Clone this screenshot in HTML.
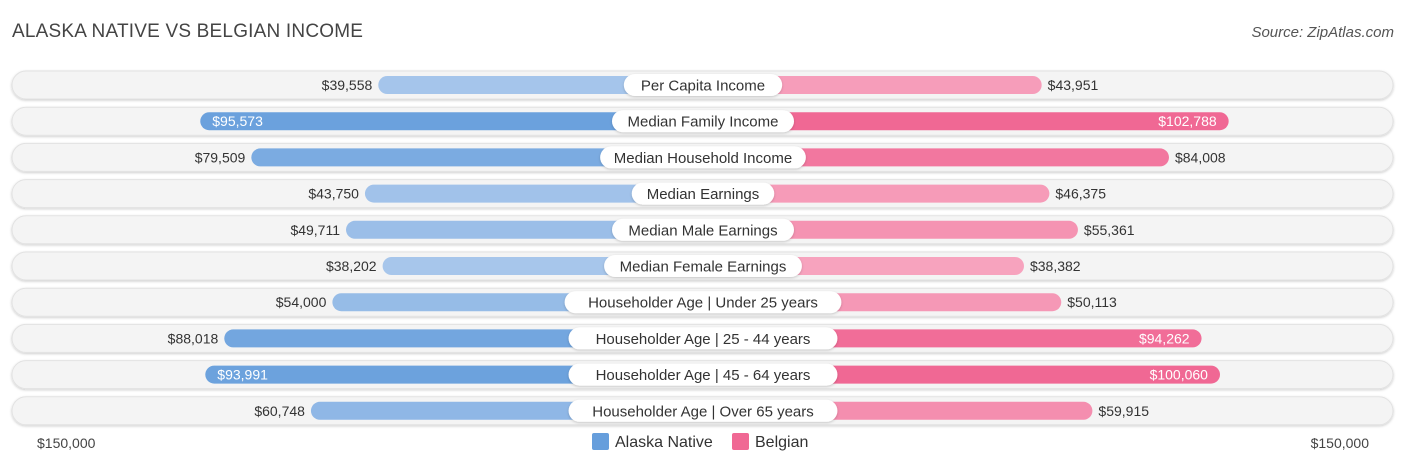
<!DOCTYPE html>
<html><head><meta charset="utf-8"><style>
body{margin:0;background:#fff;font-family:"Liberation Sans",sans-serif;}
#c{position:relative;width:1406px;height:467px;overflow:hidden}
.t{position:absolute;white-space:nowrap}
</style></head><body>
<div id="c">
<div class="t" style="left:12px;top:21px;font-size:19px;color:#444;letter-spacing:0.2px">ALASKA NATIVE VS BELGIAN INCOME</div>
<div class="t" style="right:12px;top:24px;font-size:15px;color:#555;font-style:italic">Source: ZipAtlas.com</div>
<svg id="s" width="1406" height="467" style="position:absolute;left:0;top:0"></svg>
</div>
<script>
const categories=["Per Capita Income","Median Family Income","Median Household Income","Median Earnings","Median Male Earnings","Median Female Earnings","Householder Age | Under 25 years","Householder Age | 25 - 44 years","Householder Age | 45 - 64 years","Householder Age | Over 65 years"];
const alaskaNative=[39558,95573,79509,43750,49711,38202,54000,88018,93991,60748];
const belgian=[43951,102788,84008,46375,55361,38382,50113,94262,100060,59915];
const axisMax=150000;
const axisLabels=["$150,000","$150,000"];
const seriesNames=["Alaska Native","Belgian"];
const NS="http://www.w3.org/2000/svg",svg=document.getElementById('s');
const cx=703;
function len(v){return 199+v*0.003178;}
function yRow(i){return 85+i*36.2;}
function el(t,a,p){const e=document.createElementNS(NS,t);for(const k in a)e.setAttribute(k,a[k]);(p||svg).appendChild(e);return e;}
function mix(a,b,f){return 'rgb('+a.map((x,i)=>Math.round(x+(b[i]-x)*f)).join(',')+')';}
function fmt(v){return '$'+v.toLocaleString('en-US');}
const bl=[[170,200,236],[102,158,220]],pk=[[247,166,192],[240,104,148]];
const defs=el('defs',{});
const f=el('filter',{id:'sh',x:'-10%',y:'-30%',width:'120%',height:'160%'},defs);
el('feDropShadow',{dx:0,dy:1,stdDeviation:1.2,'flood-color':'#000','flood-opacity':0.2},f);
categories.forEach((c,i)=>{
 const y=yRow(i);
 const bg=el('rect',{x:12,y:y-14,width:1381,height:28,rx:14,fill:'#f4f4f4',stroke:'#e2e2e2','stroke-width':1,filter:'url(#sh)'});
 
 [[alaskaNative[i],-1,bl,'alaska-native-bar'],[belgian[i],1,pk,'belgian-bar']].forEach(([v,d,col,nm])=>{
  const L=len(v),fr=Math.max(0,Math.min(1,(v-35000)/65000));
  const x=d<0?cx-L:cx;
  const r=el('rect',{x:x,y:y-9,width:L,height:18,rx:9,fill:mix(col[0],col[1],fr)});
  
  const inside=v>90000;
  const tx=inside?(d<0?cx-L+12:cx+L-12):(d<0?cx-L-6:cx+L+6);
  const t=el('text',{x:tx,y:y+5,'font-size':14,fill:inside?'#fff':'#333','text-anchor':d<0?(inside?'start':'end'):(inside?'end':'start'),'font-family':'Liberation Sans'});
  t.textContent=fmt(v);
  
 });
 const w=c.length*7.9+24;
 const lb=el('rect',{x:cx-w/2,y:y-11,width:w,height:22,rx:11,fill:'#fff',filter:'url(#sh)'});
 
 const lt=el('text',{x:cx,y:y+5.5,'font-size':15,fill:'#333','text-anchor':'middle','font-family':'Liberation Sans'});
 lt.textContent=c;
 
});
const a1=el('text',{x:37,y:448,'font-size':14,fill:'#444'});a1.textContent=axisLabels[0];

const a2=el('text',{x:1369,y:448,'font-size':14,fill:'#444','text-anchor':'end'});a2.textContent=axisLabels[1];

[[592,bl[1],seriesNames[0],'legend-alaska-native'],[732,pk[1],seriesNames[1],'legend-belgian']].forEach(([x,c,n,nm])=>{
 const g=el('g',{});
 el('rect',{x:x,y:433,width:17,height:17,rx:2,fill:'rgb('+c.join(',')+')'},g);
 const t=el('text',{x:x+23,y:447,'font-size':16,fill:'#333'},g);t.textContent=n;
});
</script>
</body></html>
